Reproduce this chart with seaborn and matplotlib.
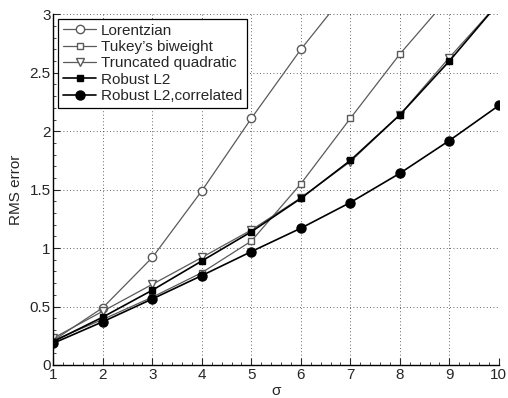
import numpy as np
import pandas as pd
import matplotlib
matplotlib.use("Agg")
import matplotlib.pyplot as plt
import seaborn as sns
from matplotlib.ticker import MultipleLocator

sns.set_style("ticks")
plt.rcParams["font.family"] = ["Liberation Sans", "DejaVu Sans"]

sigma = [1, 2, 3, 4, 5, 6, 7, 8, 9, 10]
lorentzian = [0.21, 0.49, 0.92, 1.49, 2.11, 2.70, 3.23, 3.80, 4.40, 5.00]
tukey = [0.21, 0.39, 0.58, 0.79, 1.06, 1.55, 2.11, 2.66, 3.15, 3.60]
truncated = [0.23, 0.46, 0.69, 0.92, 1.155, 1.43, 1.74, 2.14, 2.63, 3.10]
robust_l2 = [0.20, 0.41, 0.64, 0.89, 1.14, 1.425, 1.75, 2.14, 2.60, 3.10]
robust_corr = [0.186, 0.37, 0.565, 0.765, 0.97, 1.17, 1.39, 1.64, 1.92, 2.22]

names = ["Lorentzian", "Tukey\u2019s biweight", "Truncated quadratic",
         "Robust L2", "Robust L2,correlated"]

df = pd.DataFrame({"sigma": sigma * 5,
                   "rms": lorentzian + tukey + truncated + robust_l2 + robust_corr,
                   "method": np.repeat(names, len(sigma))})

grey = "#5a5a5a"
styles = {
    "Lorentzian": dict(color=grey, marker="o", mfc="white", ms=6, lw=0.9),
    "Tukey\u2019s biweight": dict(color=grey, marker="s", mfc="white", ms=5, lw=0.9),
    "Truncated quadratic": dict(color=grey, marker="v", mfc="white", ms=6, lw=0.9),
    "Robust L2": dict(color="black", marker="s", mfc="black", ms=5, lw=1.2),
    "Robust L2,correlated": dict(color="black", marker="o", mfc="black", ms=6.5, lw=1.2),
}

fig = plt.figure(figsize=(5.08, 3.98), dpi=100)
ax = fig.add_axes([0.105, 0.083, 0.877, 0.881])

for name in names:
    st = styles[name]
    sub = df[df["method"] == name]
    sns.lineplot(data=sub, x="sigma", y="rms", ax=ax, color=st["color"], lw=st["lw"],
                 marker=st["marker"], markersize=st["ms"], markerfacecolor=st["mfc"],
                 markeredgecolor=st["color"], markeredgewidth=1.0, label=name)

ax.set_xlim(1, 10)
ax.set_ylim(0, 3)
ax.xaxis.set_major_locator(MultipleLocator(1))
ax.yaxis.set_major_locator(MultipleLocator(0.5))
ax.yaxis.set_major_formatter(matplotlib.ticker.FuncFormatter(lambda v, p: f"{v:g}"))
ax.xaxis.set_minor_locator(MultipleLocator(0.2))
ax.yaxis.set_minor_locator(MultipleLocator(0.1))
ax.tick_params(which="major", direction="in", length=5, width=0.8, labelsize=11, pad=2)
ax.tick_params(which="minor", direction="in", length=2.5, width=0.6)
ax.grid(True, which="major", linestyle=(0, (1, 3)), color="black", lw=0.6, alpha=0.8)
ax.set_axisbelow(True)
sns.despine(ax=ax)
for s in ["left", "bottom"]:
    ax.spines[s].set_linewidth(1.0)
    ax.spines[s].set_color("black")

ax.set_xlabel("\u03c3", fontsize=11)
ax.xaxis.set_label_coords(0.5, -0.055)
ax.set_ylabel("RMS error", fontsize=11)
ax.yaxis.set_label_coords(-0.068, 0.5)

leg = ax.legend(loc="upper left", bbox_to_anchor=(0.011, 0.986), fontsize=11,
                frameon=True, fancybox=False, edgecolor="black", framealpha=1,
                handlelength=2.2, handletextpad=0.3, labelspacing=0.15,
                borderpad=0.3, borderaxespad=0.0)
leg.get_frame().set_linewidth(0.9)

fig.savefig("out.png", dpi=100)
